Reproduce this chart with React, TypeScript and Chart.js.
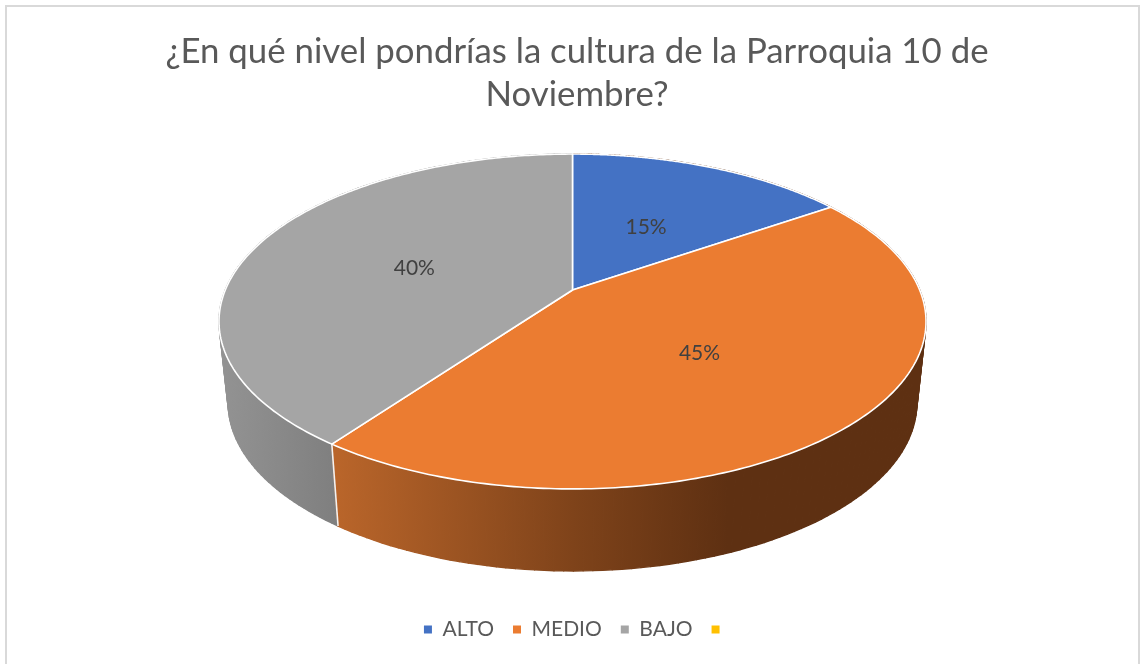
import React, { useEffect, useRef } from "react";
import { Chart, registerables } from "chart.js";

Chart.register(...registerables);

const categories = ["ALTO", "MEDIO", "BAJO", ""];
const shares = [15.4, 44.6, 40, 0];
const sliceColors = ["#4472c4", "#eb7c31", "#a5a5a5", "#ffc000"];
const titleLines = ["¿En qué nivel pondrías la cultura de la Parroquia 10 de", "Noviembre?"];

// perspective projection of the unit disc to the screen (top face and bottom face)
const CX = 572.5;
const C = -0.188;
const topFace = { r: 347.2, a: 107, b: 290 };
const baseFace = { r: 338.2, a: 92.2, b: 371.4 };
const project = (f: any, u: number, v: number) => {
  const d = 1 + C * v;
  return [CX + (f.r * u) / d, (f.a * v + f.b) / d];
};
const onRim = (f: any, ang: number, k = 1) => project(f, k * Math.cos(ang), k * Math.sin(ang));

const labelRadius = [0.5, 0.55, 0.48];
const labelNudge = [[-1, 3], [-17, -5], [-4, 2]];

const pie3d = {
  id: "pie3d",
  beforeDatasetDraw(chart: any) {
    const ctx = chart.ctx;
    const arcs = chart.getDatasetMeta(0).data;

    const wallFill = (i: number) => {
      const g = ctx.createLinearGradient(220, 0, 925, 0);
      if (i === 2) {
        g.addColorStop(0, "#939393");
        g.addColorStop(0.165, "#7f7f7f");
        g.addColorStop(1, "#7f7f7f");
      } else {
        g.addColorStop(0, "#c46b2a");
        g.addColorStop(0.167, "#b9652a");
        g.addColorStop(0.5, "#7f431a");
        g.addColorStop(0.72, "#5e3012");
        g.addColorStop(1, "#5e3012");
      }
      return g;
    };

    // side walls, back to front
    [0, 2, 1].forEach((i) => {
      const arc = arcs[i];
      const steps = 120;
      const fill = wallFill(i);
      ctx.fillStyle = fill;
      ctx.strokeStyle = fill;
      ctx.lineWidth = 1.4;
      ctx.lineJoin = "round";
      for (let s = 0; s < steps; s++) {
        const span = arc.endAngle - arc.startAngle;
        const a0 = arc.startAngle + (span * s) / steps;
        const a1 = arc.startAngle + (span * (s + 1)) / steps;
        const p = [onRim(topFace, a0), onRim(topFace, a1), onRim(baseFace, a1), onRim(baseFace, a0)];
        ctx.beginPath();
        ctx.moveTo(p[0][0], p[0][1]);
        p.slice(1).forEach((q) => ctx.lineTo(q[0], q[1]));
        ctx.closePath();
        ctx.stroke();
        ctx.fill();
      }
    });

    // seam between the visible walls
    const seam = arcs[1].endAngle;
    const st = onRim(topFace, seam);
    const sb = onRim(baseFace, seam);
    ctx.strokeStyle = "#f2f2f2";
    ctx.lineWidth = 1.6;
    ctx.beginPath();
    ctx.moveTo(st[0], st[1]);
    ctx.lineTo(sb[0], sb[1]);
    ctx.stroke();

    // top faces
    arcs.forEach((arc: any, i: number) => {
      if (arc.endAngle - arc.startAngle <= 0) return;
      const apex = project(topFace, 0, 0);
      ctx.beginPath();
      ctx.moveTo(apex[0], apex[1]);
      const n = 200;
      for (let s = 0; s <= n; s++) {
        const q = onRim(topFace, arc.startAngle + ((arc.endAngle - arc.startAngle) * s) / n);
        ctx.lineTo(q[0], q[1]);
      }
      ctx.closePath();
      ctx.fillStyle = sliceColors[i];
      ctx.fill();
      ctx.strokeStyle = "#ffffff";
      ctx.lineWidth = 1.6;
      ctx.lineJoin = "round";
      ctx.stroke();
    });

    // value labels
    const total = shares.reduce((x, y) => x + y, 0);
    ctx.fillStyle = "#404040";
    ctx.font = '21px Lato, "Open Sans", sans-serif';
    ctx.textAlign = "center";
    ctx.textBaseline = "middle";
    arcs.forEach((arc: any, i: number) => {
      if (!shares[i]) return;
      const mid = (arc.startAngle + arc.endAngle) / 2;
      const q = onRim(topFace, mid, labelRadius[i]);
      ctx.fillText(`${Math.round((shares[i] / total) * 100)}%`, q[0] + labelNudge[i][0], q[1] + labelNudge[i][1]);
    });
    return false;
  },
  beforeDraw(chart: any) {
    const ctx = chart.ctx;
    ctx.save();
    ctx.fillStyle = "#ffffff";
    ctx.fillRect(0, 0, chart.width, chart.height);
    ctx.strokeStyle = "#d9d9d9";
    ctx.lineWidth = 2;
    ctx.strokeRect(6, 6, 1133, 680);
    ctx.restore();
  },
};

export default function App() {
  const ref = useRef<HTMLCanvasElement>(null);
  useEffect(() => {
    const chart = new Chart(ref.current as HTMLCanvasElement, {
      type: "pie",
      data: {
        labels: categories,
        datasets: [{ data: shares, backgroundColor: sliceColors, borderWidth: 0 }],
      },
      options: {
        animation: false,
        responsive: false,
        events: [],
        layout: { padding: { top: 30, bottom: 14, left: 13 } },
        plugins: {
          tooltip: { enabled: false },
          title: {
            display: true,
            text: titleLines,
            color: "#595959",
            font: { family: 'Lato, "Open Sans", sans-serif', size: 34.8, weight: "normal", lineHeight: 1.25 },
            padding: { top: 0, bottom: 10 },
          },
          legend: {
            display: true,
            position: "bottom",
            onClick: undefined,
            labels: {
              boxWidth: 8,
              boxHeight: 8,
              padding: 19,
              color: "#595959",
              font: { family: 'Lato, "Open Sans", sans-serif', size: 21 },
            },
          },
        },
      } as any,
      plugins: [pie3d],
    });
    return () => chart.destroy();
  }, []);
  return (
    <div style={{ position: "absolute", left: 0, top: 0, width: 1141, height: 664, overflow: "hidden" }}>
      <canvas ref={ref} width={1141} height={664} style={{ display: "block" }} />
    </div>
  );
}
